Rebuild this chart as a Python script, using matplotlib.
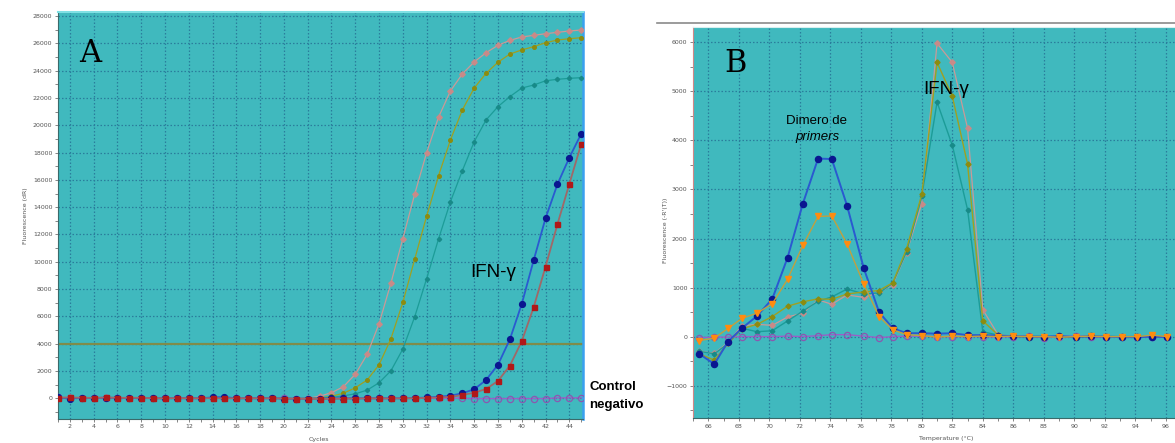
import matplotlib
matplotlib.use("Agg")
import matplotlib.pyplot as plt
from matplotlib.lines import Line2D
from matplotlib.ticker import MultipleLocator

# ---------------- Panel A data (amplification curves) ----------------
cycles = list(range(1, 46))
amp_pink = [50, 60, 40, 30, 60, 40, 30, 40, 10, 0, 20, 0, 0, 10, 0, 0, 0, 0, 0, -20,
            -30, 0, 150, 410, 850, 1760, 3220, 5470, 8450, 11700, 14970, 18000, 20590,
            22510, 23760, 24640, 25320, 25860, 26220, 26470, 26590, 26710, 26810, 26910, 26980]
amp_olive = [40, 50, 30, 20, 40, 30, 20, 30, 0, 0, 10, 0, 0, 0, 0, 0, 0, 0, 0, -10,
             -20, 0, 30, 150, 370, 770, 1340, 2460, 4370, 7030, 10200, 13350, 16300,
             18920, 21120, 22730, 23810, 24620, 25220, 25520, 25760, 26050, 26250, 26340, 26420]
amp_teal = [30, 40, 30, 20, 30, 20, 20, 20, 0, 0, 10, 0, 0, 0, 0, 0, 0, 0, 0, -10,
            -20, -10, 0, 60, 180, 330, 600, 1140, 2020, 3610, 5980, 8760, 11670,
            14400, 16670, 18800, 20390, 21370, 22100, 22730, 22950, 23260, 23370, 23440, 23490]
amp_blue = [60, -20, 40, 20, 50, 30, 20, 30, 0, 0, 10, 0, 0, 70, 90, 0, 0, 0, 0, -20,
            -30, -20, -20, -10, 0, 0, 0, 0, 0, 0, 20, 60, 110,
            190, 370, 660, 1340, 2460, 4320, 6910, 10110, 13190, 15680, 17630, 19380]
amp_red = [50, 60, 40, 30, 60, 40, 30, 40, 0, 0, 10, 0, 0, 10, 0, 0, 0, 0, 0, -20,
           -30, -40, -50, -40, -20, -20, -10, -10, -10, 0, 0, 30, 60,
           100, 240, 410, 680, 1270, 2390, 4180, 6670, 9640, 12750, 15700, 18630]
amp_purple = [60, 30, 50, 20, 50, 30, 20, 30, 0, 0, 10, 0, 0, 10, 0, 0, 0, 0, 0, -10,
              -20, -30, -20, -20, -10, -10, -10, -10, -10, 0, 0, 0, 0,
              0, 0, -20, -20, -20, -20, -20, -20, -20, 30, 30, 30]
threshold = 4000

# ---------------- Panel B data (melting curves) ----------------
temps = [65.4, 66.4, 67.3, 68.2, 69.2, 70.2, 71.2, 72.2, 73.2, 74.1, 75.1, 76.2, 77.2,
         78.1, 79.0, 80.0, 81.0, 82.0, 83.0, 84.0, 85.0, 86.0, 87.0, 88.0, 89.0, 90.1,
         91.1, 92.1, 93.1, 94.1, 95.1, 96.1]
melt_blue = [-350, -560, -100, 170, 420, 770, 1610, 2710, 3630, 3620, 2670, 1390, 500,
             170, 70, 70, 60, 70, 30, 30, 20, 10, 0, 0, 10, -10, 10, 0, -10, -10, 0, -10]
melt_orange = [-80, -30, 170, 370, 480, 670, 1170, 1860, 2450, 2460, 1890, 1070, 410,
               140, 40, 20, -10, 10, 0, 10, 0, 10, 0, 0, -10, 0, 10, 0, 0, 0, 30, 0]
melt_olive = [-350, -480, -140, 160, 250, 410, 620, 710, 770, 760, 870, 910, 940,
              1100, 1790, 2900, 5590, 4900, 3520, 320, 35, 0, 0, 0, -10, 0, 0, 0, 0, 0, 0, -10]
melt_teal = [-300, -350, -140, 170, 100, 120, 320, 520, 720, 810, 970, 870, 890,
             1090, 1730, 2860, 4780, 3900, 2590, 100, 30, 0, 0, 0, 0, 0, 0, 0, 0, 0, 0, 0]
melt_pink = [-300, -340, -120, 220, 250, 230, 400, 480, 750, 660, 850, 800, 900,
             1060, 1710, 2710, 5980, 5590, 4250, 550, 40, 0, 0, 0, 0, 0, 0, 0, 0, 0, 0, 0]
melt_purple = [-20, -10, -10, 0, 0, 0, 10, 0, 20, 40, 40, 10, -20, 0, 10, 10, 0, 0,
               0, 0, -10, 0, 10, -20, 0, 10, 0, -10, 0, 0, -10, -10]

# ---------------- styling ----------------
BG = '#40b9be'
GRID = '#2a7d9c'
TICKC = '#555555'
TICKFS = 4.5

fig = plt.figure(figsize=(11.75, 4.43), dpi=100)
fig.patch.set_facecolor('white')

W, H = 1175, 443
def rect(l, t, r, b):
    return [l / W, 1 - b / H, (r - l) / W, (b - t) / H]

axA = fig.add_axes(rect(58, 12, 583, 418.5))
axB = fig.add_axes(rect(693, 27, 1175, 418.3))

for ax in (axA, axB):
    ax.set_facecolor(BG)
    ax.tick_params(axis='both', which='both', direction='out', length=2, width=0.5,
                   colors=TICKC, labelsize=TICKFS, pad=2)
    ax.grid(True, which='major', color=GRID, linestyle=(0, (1.2, 1.6)), linewidth=0.9)
    ax.set_axisbelow(True)

# ---- Panel A ----
axA.plot(cycles, amp_pink, color='#c99a98', lw=0.9, marker='D', ms=2.8,
         mfc='#c98a88', mec='#c98a88', zorder=3)
axA.plot(cycles, amp_olive, color='#a0a020', lw=0.9, marker='o', ms=2.6,
         mfc='#8c8c10', mec='#8c8c10', zorder=3)
axA.plot(cycles, amp_teal, color='#1c9c98', lw=0.9, marker='D', ms=2.2,
         mfc='#178a88', mec='#178a88', zorder=3)
axA.plot(cycles, amp_purple, color='#9a60c8', lw=1.0, marker='o', ms=4.5,
         mfc='none', mec='#8a58b0', mew=0.9, zorder=3)
axA.plot(cycles, amp_blue, color='#2a5ad0', lw=1.3, marker='o', ms=4.2,
         mfc='#0a1690', mec='#0a1690', zorder=4)
axA.plot(cycles, amp_red, color='#a06868', lw=1.3, marker='s', ms=3.6,
         mfc='#b01818', mec='#b01818', zorder=4)
axA.axhline(threshold, color='#7f8c4a', lw=1.6, zorder=2.5)

axA.set_xlim(1, 45.15)
axA.set_ylim(-1480, 28300)
axA.xaxis.set_major_locator(MultipleLocator(2))
axA.xaxis.set_minor_locator(MultipleLocator(1))
axA.yaxis.set_major_locator(MultipleLocator(2000))
axA.yaxis.set_minor_locator(MultipleLocator(1000))
axA.set_xticks(range(2, 45, 2))
axA.set_yticks(range(0, 28001, 2000))
axA.set_xlabel('Cycles', fontsize=TICKFS, color=TICKC)
axA.set_ylabel('Fluorescence (dR)', fontsize=TICKFS, color=TICKC)
axA.xaxis.set_label_coords(0.497, -0.045)
axA.yaxis.set_label_coords(-0.057, 0.5)
axA.spines['left'].set_color('#3a6a6a')
axA.spines['bottom'].set_color('#3a6a6a')
axA.spines['top'].set_color('#80e0e4')
axA.spines['top'].set_linewidth(1.5)
axA.spines['right'].set_color('#3aa0f0')
axA.spines['right'].set_linewidth(1.8)

axA.text(0.04, 0.935, 'A', transform=axA.transAxes, fontsize=22,
         family='DejaVu Serif', color='black', va='top', ha='left')
axA.text(470, 166, 'IFN-γ', transform=None, fontsize=13.5,
         family='Liberation Sans', color='black')
fig.text(589 / W, 1 - 390 / H, 'Control', fontsize=9.5, fontweight='bold',
         family='Liberation Sans', color='black')
fig.text(589 / W, 1 - 408 / H, 'negativo', fontsize=9.5, fontweight='bold',
         family='Liberation Sans', color='black')

# ---- Panel B ----
axB.plot(temps, melt_pink, color='#c99a98', lw=0.9, marker='D', ms=2.8,
         mfc='#c98a88', mec='#c98a88', zorder=3)
axB.plot(temps, melt_teal, color='#1c9c98', lw=1.0, marker='D', ms=2.4,
         mfc='#178a88', mec='#178a88', zorder=3)
axB.plot(temps, melt_olive, color='#a0a020', lw=1.0, marker='D', ms=2.6,
         mfc='#8c8c10', mec='#8c8c10', zorder=3)
axB.plot(temps, melt_purple, color='#9a60c8', lw=1.0, marker='o', ms=4.5,
         mfc='none', mec='#8a58b0', mew=0.9, zorder=3)
axB.plot(temps, melt_blue, color='#2a5ad0', lw=1.4, marker='o', ms=4.4,
         mfc='#0a1690', mec='#0a1690', zorder=4)
axB.plot(temps, melt_orange, color='#c0a040', lw=1.0, marker='v', ms=4.4,
         mfc='#ff8c10', mec='#ff8c10', zorder=4)

axB.set_xlim(65.0, 96.6)
axB.set_ylim(-1665, 6312)
axB.set_xticks(range(66, 97, 2))
axB.xaxis.set_minor_locator(MultipleLocator(1))
axB.set_yticks(range(-1000, 6001, 1000))
axB.yaxis.set_minor_locator(MultipleLocator(500))
axB.set_xlabel('Temperature (°C)', fontsize=TICKFS, color=TICKC)
axB.set_ylabel("Fluorescence (-R'(T))", fontsize=TICKFS, color=TICKC)
axB.xaxis.set_label_coords(0.525, -0.045)
axB.yaxis.set_label_coords(-0.052, 0.48)
axB.spines['left'].set_color('#d08888')
axB.spines['bottom'].set_color('#3a6a6a')
axB.spines['top'].set_color('#d8f0f0')
axB.spines['right'].set_visible(False)

axB.text(726, 1 - 0, '', transform=None)
fig.text(736 / W, 1 - 63 / H, 'B', fontsize=22, family='DejaVu Serif',
         color='black', ha='center', va='center')
fig.text(923 / W, 1 - 94 / H, 'IFN-γ', fontsize=13.5, family='Liberation Sans',
         color='black', ha='left', va='baseline')
fig.text(817 / W, 1 - 124 / H, 'Dimero de', fontsize=9.5, family='Liberation Sans',
         color='black', ha='center', va='baseline')
fig.text(817 / W, 1 - 140 / H, 'primers', fontsize=9.5, family='Liberation Sans',
         style='italic', color='black', ha='center', va='baseline')

# separator line above panel B
fig.add_artist(Line2D([657 / W, 1.0], [1 - 22.5 / H, 1 - 22.5 / H],
                      color='#8a8a8a', lw=1.2, transform=fig.transFigure))

fig.savefig('out.png', dpi=100, facecolor='white')
